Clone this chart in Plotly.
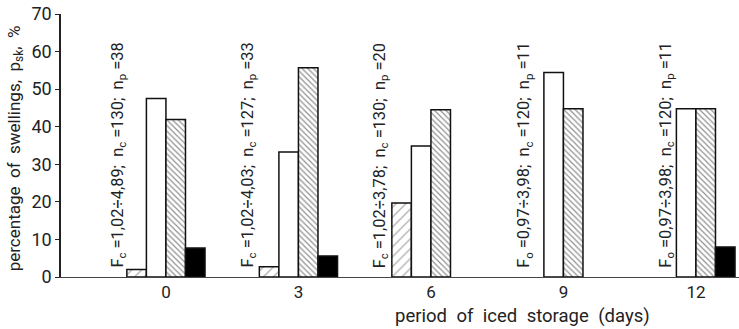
import plotly.graph_objects as go

# ---- data ----
days = ["0", "3", "6", "9", "12"]
series_a = [2.0, 2.7, 19.7, None, None]      # light "/" hatching
series_b = [47.5, 33.3, 34.9, 54.4, 44.8]    # white
series_c = [41.9, 55.7, 44.5, 44.8, 44.8]    # dense "\" hatching
series_d = [7.7, 5.6, None, None, 8.0]       # black
NB = "\u00a0"
notes = [
    f"F<sub>c</sub> =1,02÷4,89;{NB}{NB}n<sub>c</sub> =130;{NB}{NB}n<sub>p</sub> =38",
    f"F<sub>c</sub> =1,02÷4,03;{NB}{NB}n<sub>c</sub> =127;{NB}{NB}n<sub>p</sub> =33",
    f"F<sub>c</sub> =1,02÷3,78;{NB}{NB}n<sub>c</sub> =130;{NB}{NB}n<sub>p</sub> =20",
    f"F<sub>o</sub> =0,97÷3,98;{NB}{NB}n<sub>c</sub> =120;{NB}{NB}n<sub>p</sub> =11",
    f"F<sub>o</sub> =0,97÷3,98;{NB}{NB}n<sub>c</sub> =120;{NB}{NB}n<sub>p</sub> =11",
]
note_shift = [-0.36, -0.38, -0.385, -0.29, -0.22]
x_title = "\u2002".join(["period", "of", "iced", "storage", "(days)"])
y_title = (NB + " ").join(["percentage", "of", "swellings,", "p<sub>sk</sub>,", "%"])

FONT = "Roboto, DejaVu Sans"
x = list(range(len(days)))

fig = go.Figure()
styles = [
    dict(name="a", y=series_a, pattern=dict(shape="/", size=7, solidity=0.15, fgcolor="#333", bgcolor="white")),
    dict(name="b", y=series_b, pattern=dict(shape="", bgcolor="white")),
    dict(name="c", y=series_c, pattern=dict(shape="\\", size=4, solidity=0.3, fgcolor="#222", bgcolor="white")),
    dict(name="d", y=series_d, pattern=None),
]
for s in styles:
    marker = dict(line=dict(color="#111", width=1.5))
    if s["pattern"] is None:
        marker["color"] = "black"
    else:
        marker["color"] = "white"
        marker["pattern"] = s["pattern"]
    fig.add_trace(go.Bar(x=x, y=s["y"], name=s["name"], marker=marker))

for i, t in enumerate(notes):
    fig.add_annotation(x=x[i] + note_shift[i], y=1.9, text=t, textangle=-90,
                       xanchor="center", yanchor="bottom", showarrow=False,
                       font=dict(family=FONT, size=16.4, color="#222"))

fig.add_annotation(xref="paper", yref="paper", x=0.49, y=-0.148,
                   text=x_title, showarrow=False,
                   xanchor="left", yanchor="middle",
                   font=dict(family=FONT, size=18.5, color="#222"))

fig.add_annotation(xref="paper", yref="paper", x=-0.068, y=0.489,
                   text=y_title, showarrow=False,
                   textangle=-90, xanchor="center", yanchor="middle",
                   font=dict(family=FONT, size=17, color="#222"))

fig.update_layout(
    width=739, height=329,
    margin=dict(l=61, r=0, t=14, b=52),
    paper_bgcolor="white", plot_bgcolor="white",
    barmode="group", bargap=0.41, bargroupgap=0,
    showlegend=False,
    font=dict(family=FONT, color="#222"),
)
fig.update_xaxes(range=[-0.792, 4.325], tickvals=x, ticktext=days,
                 showgrid=False, zeroline=False, showline=True,
                 linecolor="#444", linewidth=1, ticks="", automargin=False,
                 tickfont=dict(size=17, color="#222"))
fig.update_yaxes(range=[0, 70], tickvals=[0, 10, 20, 30, 40, 50, 60, 70],
                 showgrid=False, zeroline=False, showline=True, automargin=False,
                 ticklabeloverflow="allow",
                 linecolor="#222", linewidth=1.5, ticks="outside", ticklen=4,
                 tickcolor="#222", tickfont=dict(size=18, color="#222"))

# remove the browser's default 8px page margin so the figure fills the window
fig.write_html("out.html", config={"displayModeBar": False},
               post_script="document.body.style.margin='0';")
